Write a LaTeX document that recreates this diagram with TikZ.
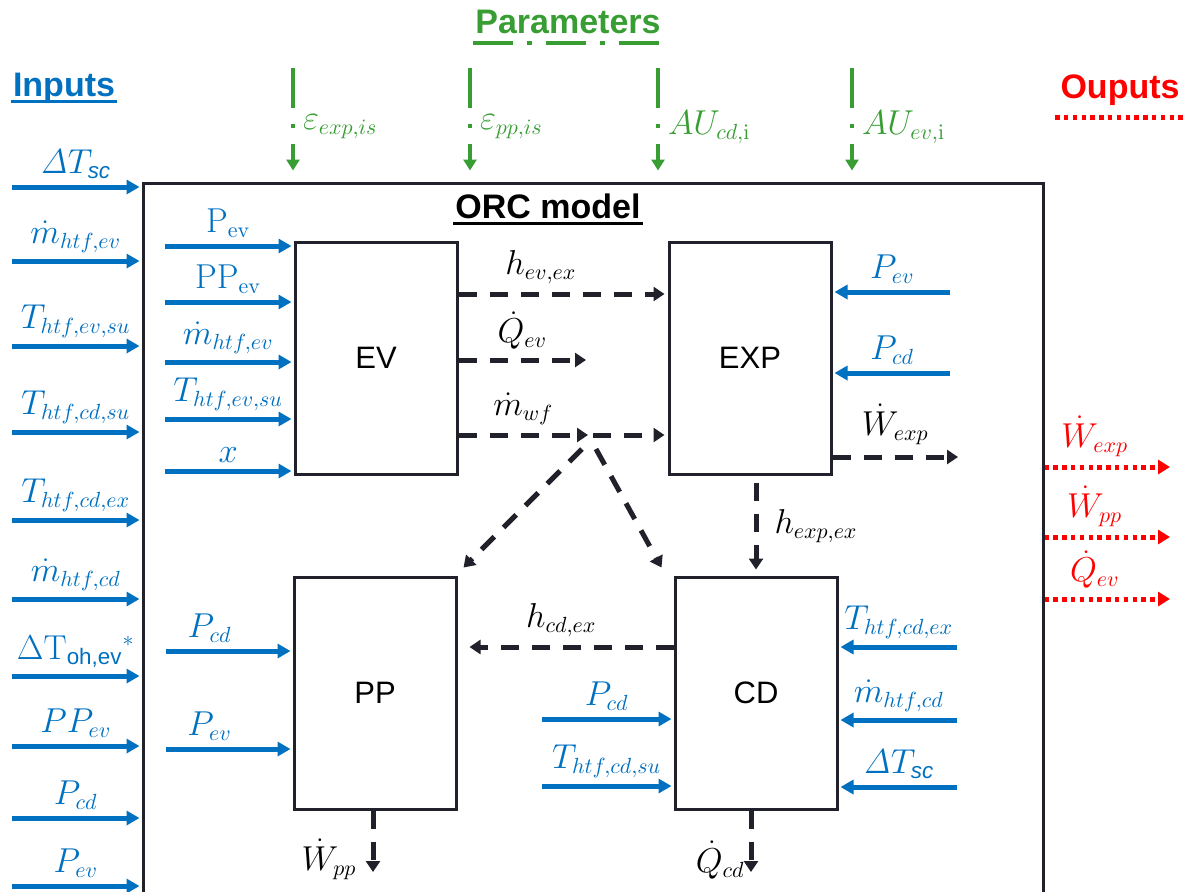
\documentclass[tikz,border=0pt]{standalone}
\usepackage{amsmath}
\usepackage[no-math]{fontspec}
\setmainfont{Liberation Sans}
\usepackage{tikz}
\usetikzlibrary{arrows.meta, positioning, calc}
\definecolor{inblue}{RGB}{0,112,192}
\definecolor{pargreen}{RGB}{56,158,52}
\definecolor{outred}{RGB}{255,0,0}
\definecolor{dark}{RGB}{33,33,43}

\begin{document}
\begin{tikzpicture}[
  x=0.5pt, y=-0.5pt,
  box/.style={rectangle, draw=dark, line width=1.5pt, minimum width=81pt,
              minimum height=116pt, inner sep=0pt, font=\fontsize{15.5}{18}\selectfont},
  inarr/.style={draw=inblue, line width=2.5pt, -{Triangle[length=6.5pt,width=7pt]}},
  flow/.style={draw=dark, line width=2.5pt, dash pattern=on 9pt off 6.5pt,
               -{Triangle[length=5.5pt,width=7pt]}},
  outarr/.style={draw=outred, line width=2.5pt, dash pattern=on 2.2pt off 2.2pt,
                 -{Triangle[length=6pt,width=7pt]}},
  parr/.style={draw=pargreen, line width=2pt, dash pattern=on 20pt off 8pt on 2pt off 8pt,
               -{Triangle[length=5.5pt,width=6.5pt]}, shorten >=5.5pt},
  lab/.style={font=\fontsize{16}{19}\selectfont, inner sep=1pt},
  title/.style={font=\bfseries\fontsize{17}{20}\selectfont, inner sep=1pt}
]
\useasboundingbox (0,0) rectangle (1186,891);
\clip (0,0) rectangle (1186,891);

\node[title, text=pargreen] (partitle) at (568,22) {Parameters};
\node[title, text=inblue] (intitle) at (64,88) {Inputs};
\node[title, text=outred] (outtitle) at (1120,90) {Ouputs};
\draw[pargreen, line width=2pt, dash pattern=on 20pt off 7pt on 2.5pt off 7pt]
  ([yshift=-3.5pt]partitle.south west) -- ([yshift=-3.5pt]partitle.south east);
\draw[inblue, line width=1.5pt]
  ([yshift=-2.5pt]intitle.base west) -- ([yshift=-2.5pt]intitle.base east);
\draw[outred, line width=2.5pt, dash pattern=on 2.2pt off 2.2pt]
  ($(outtitle.south west)+(-3,10)$) -- ($(outtitle.south east)+(12,10)$);

\node[draw=dark, line width=1.5pt, minimum width=450pt, minimum height=400pt,
      inner sep=0pt] (orc) at (593,583) {};
\node[title, text=black] (orctitle) at (548,206) {ORC model};
\draw[black, line width=1.5pt]
  ([yshift=-2.5pt]orctitle.base west) -- ([yshift=-2.5pt]orctitle.base east);

\node[box] (ev)  at (376,358) {EV};
\node[box] (exp) at (750,358) {EXP};
\node[box] (pp)  at (375,693) {PP};
\node[box] (cd)  at (756,693) {CD};

\foreach \x/\txt [count=\i] in {293/{$\varepsilon_{exp,is}$}, 470/{$\varepsilon_{pp,is}$},
    658/{$AU_{cd,\mathrm{i}}$}, 852/{$AU_{ev,\mathrm{i}}$}}
  \draw[parr] (\x,68) coordinate (par\i) -- node[lab, pos=0.52, right=3pt, text=pargreen] {\txt}
    (par\i |- orc.north);

\foreach \y/\txt [count=\i] in {187/{$\mathit{\Delta}T_{\text{\itshape sc}}$}, 261/{$\dot m_{htf,ev}$},
    346/{$T_{htf,ev,su}$}, 432/{$T_{htf,cd,su}$}, 520/{$T_{htf,cd,ex}$},
    599/{$\dot m_{htf,cd}$}, 676/{$\Delta\mathrm{T}_{\text{oh,ev}}{}^{*}$}, 746/{$PP_{ev}$},
    818/{$P_{cd}$}, 886/{$P_{ev}$}}
  \draw[inarr] (12,\y) coordinate (in\i) -- node[lab, above=2pt, text=inblue] {\txt}
    ([xshift=-1pt]in\i -| orc.west);

\foreach \y/\txt [count=\i] in {246/{$\mathrm{P}_{\mathrm{ev}}$}, 302/{$\mathrm{PP}_{\mathrm{ev}}$},
    362/{$\dot m_{htf,ev}$}, 419/{$T_{htf,ev,su}$}, 471/{$x$}}
  \draw[inarr] (165,\y) coordinate (evin\i) -- node[lab, above=2pt, text=inblue] {\txt}
    ([xshift=-1pt]evin\i -| ev.west);

\foreach \y/\txt [count=\i] in {292/{$P_{ev}$}, 373/{$P_{cd}$}}
  \draw[inarr] (950,\y) coordinate (expin\i) -- node[lab, above=2pt, text=inblue] {\txt}
    ([xshift=1pt]expin\i -| exp.east);

\foreach \y/\txt [count=\i] in {647/{$T_{htf,cd,ex}$}, 720/{$\dot m_{htf,cd}$},
    787/{$\mathit{\Delta}T_{\text{\itshape sc}}$}}
  \draw[inarr] (957,\y) coordinate (cdinr\i) -- node[lab, above=2pt, text=inblue] {\txt}
    ([xshift=1pt]cdinr\i -| cd.east);

\foreach \y/\txt [count=\i] in {719/{$P_{cd}$}, 786/{$T_{htf,cd,su}$}}
  \draw[inarr] (542,\y) coordinate (cdinl\i) -- node[lab, above=2pt, text=inblue] {\txt}
    ([xshift=-1pt]cdinl\i -| cd.west);

\foreach \y/\txt [count=\i] in {651/{$P_{cd}$}, 749/{$P_{ev}$}}
  \draw[inarr] (166,\y) coordinate (ppin\i) -- node[lab, pos=0.35, above=2pt, text=inblue] {\txt}
    ([xshift=-1pt]ppin\i -| pp.west);

\coordinate (qev)  at (586,360);
\coordinate (jn)   at (588,435);
\coordinate (wexp) at (958,457);
\coordinate (wpp)  at (373,872);
\coordinate (qcd)  at (751,872);

\draw[flow] ($(ev.east)+(0,-64)$) -- node[lab, pos=0.4, above=3pt] {$h_{ev,ex}$}
  ($(exp.west)+(-3,-64)$);
\draw[flow] (qev -| ev.east) -- node[lab, above=3pt] {$\dot Q_{ev}$} (qev);
\draw[flow] (jn -| ev.east) -- node[lab, above=3pt] {$\dot m_{wf}$} (jn);
\draw[flow] ($(jn)+(5,0)$) -- ($(jn -| exp.west)+(-3,0)$);
\draw[flow] ($(jn)+(-6,14)$) -- ($(pp.north east)+(6,-8)$);
\draw[flow] ($(jn)+(8,14)$) -- ($(cd.north west)+(-12,-8)$);
\draw[flow] (wexp -| exp.east) -- node[lab, above=4pt] {$\dot W_{exp}$} (wexp);
\draw[flow] ($(exp.south -| cd.north)+(0,7)$) -- node[lab, right=7pt] {$h_{exp,ex}$}
  ($(cd.north)+(0,-6)$);
\draw[flow] ($(cd.west)+(0,-46)$) -- node[lab, pos=0.55, above=3pt] {$h_{cd,ex}$}
  ($(pp.east)+(12,-46)$);
\draw[flow] (wpp |- pp.south) -- node[lab, pos=0.8, left=6pt] {$\dot W_{pp}$} (wpp);
\draw[flow] (qcd |- cd.south) -- node[lab, pos=0.8, left=1pt] {$\dot Q_{cd}$} (qcd);

\foreach \y/\txt [count=\i] in {467/{$\dot W_{exp}$}, 537/{$\dot W_{pp}$}, 599/{$\dot Q_{ev}$}}
  \draw[outarr] (1170,\y) coordinate (out\i) (out\i -| orc.east) --
    node[lab, pos=0.4, above=3pt, text=outred] {\txt} (out\i);
\end{tikzpicture}
\end{document}
